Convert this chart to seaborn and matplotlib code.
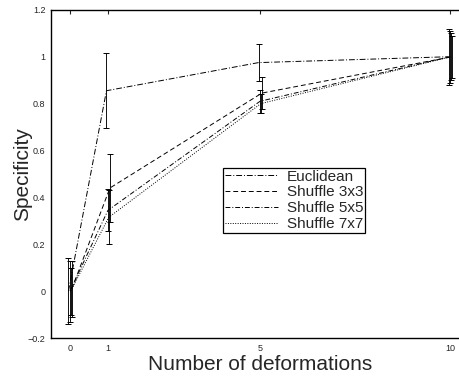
import matplotlib
matplotlib.use("Agg")
from matplotlib import pyplot as plt
import seaborn as sns

# values
deformations = [0, 1, 5, 10]
series_names = ["Euclidean", "Shuffle 3x3", "Shuffle 5x5", "Shuffle 7x7"]
euclidean_mean = [0.0, 0.855, 0.975, 1.0]
euclidean_err = [0.14, 0.16, 0.08, 0.12]
shuffle3_mean = [0.01, 0.44, 0.845, 1.0]
shuffle3_err = [0.12, 0.145, 0.07, 0.09]
shuffle5_mean = [0.0, 0.345, 0.81, 1.0]
shuffle5_err = [0.13, 0.09, 0.05, 0.11]
shuffle7_mean = [0.0, 0.315, 0.80, 1.0]
shuffle7_err = [0.10, 0.115, 0.04, 0.10]
y_ticks = [-0.2, 0, 0.2, 0.4, 0.6, 0.8, 1, 1.2]
y_tick_labels = ["\u22120.2", "0", "0.2", "0.4", "0.6", "0.8", "1", "1.2"]

sns.set_style("white")
plt.rcParams["font.family"] = ["Liberation Sans", "DejaVu Sans"]

fig = plt.figure(figsize=(4.59, 3.79), dpi=100)
ax = fig.add_axes([0.111, 0.108, 0.911, 0.866])

means = [euclidean_mean, shuffle3_mean, shuffle5_mean, shuffle7_mean]
errs = [euclidean_err, shuffle3_err, shuffle5_err, shuffle7_err]
styles = [(0, (6, 2, 1, 2)), (0, (5, 3)), (0, (5, 2, 1, 2)), (0, (1, 1.5))]
offsets = [-0.04, 0.05, 0.0, 0.02]

for name, m, e, ls, off in zip(series_names, means, errs, styles, offsets):
    xs = [d + off for d in deformations]
    sns.lineplot(x=xs, y=m, ax=ax, color="black", linewidth=0.7,
                 linestyle=ls, label=name)
    ax.errorbar(xs, m, yerr=e, fmt="none", ecolor="black",
                elinewidth=0.65, capsize=2.5, capthick=0.7)

ax.set_xlim(-0.5, 10.5)
ax.set_ylim(-0.2, 1.2)
ax.set_xticks(deformations)
ax.set_xticklabels([str(d) for d in deformations])
ax.set_yticks(y_ticks)
ax.set_yticklabels(y_tick_labels)
ax.tick_params(direction="in", length=3, width=0.8, labelsize=6.5,
               top=True, right=True, pad=4)
for spine in ax.spines.values():
    spine.set_color("black")
    spine.set_linewidth(1.0)

ax.set_xlabel("Number of deformations", fontsize=15, labelpad=2)
ax.set_ylabel("Specificity", fontsize=15)
ax.yaxis.set_label_coords(-0.045, 0.5)

leg = ax.legend(loc="upper left", bbox_to_anchor=(223 / 459, 1 - 168 / 379),
                bbox_transform=fig.transFigure, fontsize=11, frameon=True,
                fancybox=False, edgecolor="black", framealpha=1,
                handlelength=3.5, handletextpad=0.6, labelspacing=0.12,
                borderpad=0.1, borderaxespad=0)
leg.get_frame().set_linewidth(0.9)

fig.savefig("out.png", dpi=100)
